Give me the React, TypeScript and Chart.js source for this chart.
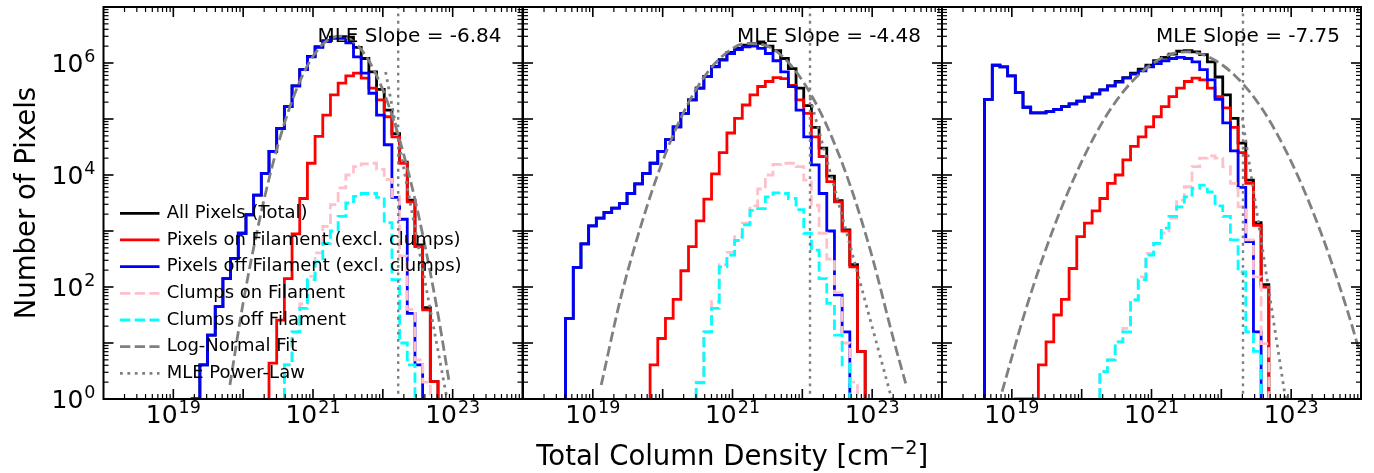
import React, { useEffect, useRef } from "react";
import { Chart, registerables } from "chart.js";
Chart.register(...registerables);

const W = 1374;
const H = 473;
const FONT = '"DejaVu Sans", "Liberation Sans", sans-serif';

// log10 of histogram bin edges (column density)
const binEdgesLog = [
  18.61, 18.72, 18.83, 18.94, 19.05, 19.16, 19.27, 19.38, 19.49, 19.6, 19.71,
  19.82, 19.93, 20.04, 20.15, 20.26, 20.37, 20.48, 20.59, 20.7, 20.81, 20.92,
  21.03, 21.14, 21.25, 21.36, 21.47, 21.58, 21.69, 21.8, 21.91, 22.02, 22.13,
  22.24, 22.35, 22.46, 22.57, 22.68, 22.79, 22.9, 23.01,
];

const N = null;
// log10 of pixel counts per bin (null = empty bin)
const p1Total = [N,N,N,N,N,N,0,0.61,1.14,1.65,2.15,2.51,2.96,3.29,3.64,4.03,4.42,4.83,5.22,5.59,5.88,6.12,6.29,6.4,6.46,6.47,6.46,6.28,6.08,5.84,5.53,5.16,4.74,4.23,3.55,2.75,1.63,0.31,N,N];
const p1Red = [N,N,N,N,N,N,N,N,N,N,N,N,N,N,N,N,0.64,1.41,2.15,2.95,3.58,4.21,4.69,5.07,5.43,5.64,5.77,5.82,5.73,5.55,5.34,5.04,4.68,4.21,3.52,2.72,1.59,0.31,N,N];
const p1Blue = [N,N,N,N,N,N,0,0.61,1.14,1.65,2.15,2.51,2.96,3.29,3.64,4.03,4.42,4.83,5.22,5.59,5.88,6.11,6.28,6.38,6.44,6.44,6.36,6.11,5.82,5.46,5.07,4.54,3.6,3.21,1.53,0.61,N,N,N,N];
const p1Pink = [N,N,N,N,N,N,N,N,N,N,N,N,N,N,N,N,N,N,0.61,1.2,1.7,2.19,2.61,3.08,3.47,3.77,4.0,4.15,4.2,4.21,4.1,3.92,3.62,2.55,1.6,0.7,0.3,N,N,N];
const p1Cyan = [N,N,N,N,N,N,N,N,N,N,N,N,N,N,N,N,N,N,0.61,1.2,1.62,2.13,2.45,2.78,3.0,3.26,3.5,3.62,3.67,3.67,3.6,3.15,2.13,1.0,0.61,N,N,N,N,N];

const p2Total = [1.44,2.35,2.77,3.09,3.23,3.33,3.41,3.49,3.67,3.84,4.03,4.21,4.42,4.63,4.86,5.1,5.34,5.55,5.76,5.94,6.06,6.19,6.26,6.32,6.35,6.35,6.3,6.22,6.08,5.9,5.55,5.24,4.85,4.48,3.98,3.54,3.02,2.4,0.85,N];
const p2Red = [N,N,N,N,N,N,N,N,N,N,N,0.61,1.08,1.44,1.78,2.29,2.72,3.18,3.57,4.02,4.4,4.75,5.01,5.25,5.43,5.58,5.67,5.74,5.72,5.6,5.34,5.1,4.68,4.33,3.88,3.52,3.0,2.36,0.85,N];
const p2Blue = [1.44,2.35,2.77,3.09,3.23,3.33,3.41,3.49,3.67,3.84,4.03,4.21,4.42,4.63,4.86,5.1,5.34,5.55,5.76,5.93,6.05,6.17,6.24,6.29,6.3,6.26,6.17,6.04,5.84,5.58,5.16,4.68,4.18,3.67,3.0,1.86,1.2,N,N,N];
const p2Pink = [N,N,N,N,N,N,N,N,N,N,N,N,N,N,N,N,N,0.3,1.2,1.74,2.4,2.62,2.9,3.14,3.45,3.75,4.0,4.19,4.21,4.21,4.15,3.91,3.46,2.96,2.5,1.9,1.0,0.3,N,N];
const p2Cyan = [N,N,N,N,N,N,N,N,N,N,N,N,N,N,N,N,N,0.29,1.2,1.62,2.36,2.57,2.83,3.11,3.37,3.4,3.61,3.68,3.67,3.58,3.38,2.96,2.66,2.15,1.71,1.14,0.61,N,N,N];

const p3Total = [5.35,5.96,5.93,5.77,5.47,5.21,5.11,5.11,5.13,5.17,5.22,5.27,5.32,5.39,5.45,5.52,5.59,5.67,5.74,5.82,5.89,5.96,6.04,6.1,6.16,6.21,6.22,6.2,6.15,6.02,5.75,5.43,5.01,4.57,3.91,3.15,2.04,N,N,N];
const p3Red = [N,N,N,N,0,0,0,0.61,1.02,1.5,1.78,2.33,2.9,3.14,3.36,3.58,3.85,4.0,4.27,4.51,4.68,4.86,5.04,5.22,5.4,5.55,5.67,5.73,5.7,5.55,5.4,5.2,4.85,4.4,3.85,3.1,2.0,N,N,N];
const p3Blue = [5.35,5.96,5.93,5.77,5.47,5.21,5.11,5.11,5.13,5.17,5.22,5.27,5.32,5.39,5.45,5.52,5.59,5.66,5.73,5.8,5.86,5.93,5.99,6.04,6.08,6.1,6.08,6.02,5.88,5.7,5.35,4.93,4.43,3.78,2.81,1.2,N,N,N,N];
const p3Pink = [N,N,N,N,N,N,N,N,N,N,N,N,N,N,N,0.49,0.7,1.02,1.26,1.77,2.18,2.6,2.78,2.96,3.23,3.55,3.79,4.15,4.3,4.34,4.3,4.15,3.85,3.43,2.84,2.18,0.99,N,N,N];
const p3Cyan = [N,N,N,N,N,N,N,N,N,N,N,N,N,N,N,0.49,0.7,1.02,1.2,1.77,2.13,2.57,2.78,3.05,3.26,3.43,3.61,3.76,3.82,3.7,3.45,3.26,2.84,2.27,1.2,0.85,N,N,N,N];

// log-normal fit curves (log10 x, log10 y)
const p1LogNormX = [19.81,20.0,20.2,20.4,20.6,20.8,21.0,21.2,21.4,21.6,21.8,22.0,22.2,22.4,22.6,22.8,22.95];
const p1LogNormY = [0.25,1.72,3.0,4.08,4.96,5.64,6.12,6.4,6.48,6.36,6.04,5.52,4.8,3.88,2.76,1.44,0.3];
const p2LogNormX = [19.12,19.4,19.7,20.0,20.3,20.6,20.9,21.2,21.5,21.8,22.1,22.4,22.7,23.0,23.3,23.48];
const p2LogNormY = [0.25,1.81,3.14,4.25,5.12,5.76,6.17,6.35,6.3,6.01,5.49,4.74,3.76,2.54,1.09,0.28];
const p3LogNormX = [18.86,19.2,19.6,20.0,20.4,20.8,21.2,21.5,21.8,22.2,22.6,23.0,23.4,23.8,24.0];
const p3LogNormY = [0.13,1.6,3.06,4.24,5.15,5.77,6.12,6.2,6.12,5.77,5.15,4.24,3.06,1.6,0.76];

// MLE power-law lines (log10 x, log10 y)
const p1PowerX = [22.04, 22.92];
const p1PowerY = [5.84, 0.0];
const p2PowerX = [22.11, 23.28];
const p2PowerY = [5.38, 0.0];
const p3PowerX = [22.3, 22.92];
const p3PowerY = [5.02, 0.0];

const mleXminLog = [22.22, 22.11, 22.31];
const mleSlopes = ["-6.84", "-4.48", "-7.75"];

const xTickDecades = [18, 19, 20, 21, 22, 23, 24];
const xLabelDecades = [19, 21, 23];
const yTickDecades = [0, 1, 2, 3, 4, 5, 6, 7];
const yLabelDecades = [0, 2, 4, 6];

const legendLabels = [
  "All Pixels (Total)",
  "Pixels on Filament (excl. clumps)",
  "Pixels off Filament (excl. clumps)",
  "Clumps on Filament",
  "Clumps off Filament",
  "Log-Normal Fit",
  "MLE Power-Law",
];

const DASH = [10.3, 4.4];
const DOT = [2.8, 4.6];
const styles = [
  { color: "#000000", dash: [] as number[] },
  { color: "#ff0000", dash: [] as number[] },
  { color: "#0000ff", dash: [] as number[] },
  { color: "#ffc0cb", dash: DASH },
  { color: "#00ffff", dash: DASH },
  { color: "#808080", dash: DASH },
  { color: "#808080", dash: DOT },
];

const panels = [
  { hist: [p1Total, p1Red, p1Blue, p1Pink, p1Cyan], lnX: p1LogNormX, lnY: p1LogNormY, pwX: p1PowerX, pwY: p1PowerY },
  { hist: [p2Total, p2Red, p2Blue, p2Pink, p2Cyan], lnX: p2LogNormX, lnY: p2LogNormY, pwX: p2PowerX, pwY: p2PowerY },
  { hist: [p3Total, p3Red, p3Blue, p3Pink, p3Cyan], lnX: p3LogNormX, lnY: p3LogNormY, pwX: p3PowerX, pwY: p3PowerY },
];

// layout of the three plot areas
const panelLeft = [103.5, 523, 942];
const panelWidth = 419;
const plotTop = 7;
const plotBottom = 399;
const LW = 2.8;

function histPoints(vals: (number | null)[]) {
  let first = -1;
  let last = -1;
  vals.forEach((v, i) => {
    if (v !== null) {
      if (first < 0) first = i;
      last = i;
    }
  });
  const pts: { x: number; y: number }[] = [];
  if (first < 0) return pts;
  pts.push({ x: 10 ** binEdgesLog[first], y: 0.05 });
  for (let i = first; i <= last; i++) {
    const v = vals[i];
    pts.push({ x: 10 ** binEdgesLog[i], y: v === null ? 0.05 : 10 ** v });
  }
  pts.push({ x: 10 ** binEdgesLog[last + 1], y: 0.05 });
  return pts;
}

function curvePoints(xs: number[], ys: number[]) {
  return xs.map((x, i) => ({ x: 10 ** x, y: 10 ** ys[i] }));
}

function drawPow(ctx: CanvasRenderingContext2D, exp: string, x: number, baseline: number, align: "center" | "right") {
  ctx.font = `25px ${FONT}`;
  const wb = ctx.measureText("10").width;
  ctx.font = `17.5px ${FONT}`;
  const we = ctx.measureText(exp).width;
  const total = wb + we + 1;
  const x0 = align === "center" ? x - total / 2 : x - total;
  ctx.textAlign = "left";
  ctx.textBaseline = "alphabetic";
  ctx.font = `25px ${FONT}`;
  ctx.fillText("10", x0, baseline);
  ctx.font = `17.5px ${FONT}`;
  ctx.fillText(exp, x0 + wb + 1, baseline - 10);
}

function line(ctx: CanvasRenderingContext2D, x1: number, y1: number, x2: number, y2: number) {
  ctx.beginPath();
  ctx.moveTo(x1, y1);
  ctx.lineTo(x2, y2);
  ctx.stroke();
}

function makePlugin(pi: number) {
  return {
    id: "decor" + pi,
    afterDraw(chart: any) {
      const ctx: CanvasRenderingContext2D = chart.ctx;
      const { left, right, top, bottom } = chart.chartArea;
      const xs = chart.scales.x;
      const ys = chart.scales.y;
      ctx.save();
      ctx.strokeStyle = "#000";
      ctx.fillStyle = "#000";
      ctx.setLineDash([]);
      // x ticks
      for (const d of xTickDecades) {
        for (let m = 1; m <= 9; m++) {
          const v = m * 10 ** d;
          if (v <= 1e18 || v >= 1e24) continue;
          const px = xs.getPixelForValue(v);
          const len = m === 1 ? 10 : 5;
          ctx.lineWidth = m === 1 ? 1.6 : 1.2;
          line(ctx, px, bottom, px, bottom - len);
          line(ctx, px, top, px, top + len);
        }
      }
      // y ticks
      for (const d of yTickDecades) {
        for (let m = 1; m <= 9; m++) {
          const v = m * 10 ** d;
          if (v <= 1 || v >= 1e7) continue;
          const py = ys.getPixelForValue(v);
          const len = m === 1 ? 10 : 5;
          ctx.lineWidth = m === 1 ? 1.6 : 1.2;
          line(ctx, left, py, left + len, py);
          line(ctx, right, py, right - len, py);
        }
      }
      // frame
      ctx.lineWidth = 2;
      ctx.strokeRect(left, top, right - left, bottom - top);
      // x tick labels
      for (const d of xLabelDecades) {
        drawPow(ctx, String(d), xs.getPixelForValue(10 ** d), bottom + 24, "center");
      }
      // MLE slope text
      ctx.font = `20px ${FONT}`;
      ctx.textAlign = "right";
      ctx.textBaseline = "alphabetic";
      ctx.fillText(`MLE Slope = ${mleSlopes[pi]}`, right - 21, top + 35);

      if (pi === 0) {
        for (const d of yLabelDecades) {
          const py = ys.getPixelForValue(10 ** d);
          drawPow(ctx, String(d), left - 8, py + 9, "right");
        }
        // legend
        const rowY0 = 213.3;
        const rowStep = 26.67;
        legendLabels.forEach((lab, i) => {
          const y = rowY0 + rowStep * i;
          const st = styles[i];
          ctx.strokeStyle = st.color;
          ctx.lineWidth = LW;
          ctx.lineCap = "butt";
          ctx.setLineDash(st.dash);
          line(ctx, left + 16.5, y, left + 56, y);
          ctx.setLineDash([]);
          ctx.fillStyle = "#000";
          ctx.font = `18px ${FONT}`;
          ctx.textAlign = "left";
          ctx.textBaseline = "middle";
          ctx.fillText(lab, left + 63.2, y);
        });
        // y axis title
        ctx.save();
        ctx.translate(35, (plotTop + plotBottom) / 2);
        ctx.rotate(-Math.PI / 2);
        ctx.font = `27.5px ${FONT}`;
        ctx.textAlign = "center";
        ctx.textBaseline = "alphabetic";
        ctx.fillText("Number of Pixels", 0, 0);
        ctx.restore();
        // x axis title
        ctx.font = `27.5px ${FONT}`;
        const t1 = "Total Column Density [cm";
        const t3 = "]";
        const w1 = ctx.measureText(t1).width;
        const w3 = ctx.measureText(t3).width;
        ctx.font = `19.25px ${FONT}`;
        const t2 = "\u22122";
        const w2 = ctx.measureText(t2).width;
        const cx = (panelLeft[0] + panelLeft[2] + panelWidth) / 2;
        const x0 = cx - (w1 + w2 + w3) / 2;
        const base = 465;
        ctx.textAlign = "left";
        ctx.textBaseline = "alphabetic";
        ctx.font = `27.5px ${FONT}`;
        ctx.fillText(t1, x0, base);
        ctx.font = `19.25px ${FONT}`;
        ctx.fillText(t2, x0 + w1, base - 11);
        ctx.font = `27.5px ${FONT}`;
        ctx.fillText(t3, x0 + w1 + w2, base);
      }
      ctx.restore();
    },
  };
}

function buildConfig(pi: number): any {
  const p = panels[pi];
  const datasets: any[] = [];
  p.hist.forEach((vals, i) => {
    datasets.push({
      data: histPoints(vals),
      borderColor: styles[i].color,
      borderDash: styles[i].dash,
      borderWidth: LW,
      stepped: true,
      pointRadius: 0,
      fill: false,
      clip: 0,
      borderCapStyle: "butt",
      borderJoinStyle: "miter",
      order: -i,
    });
  });
  datasets.push({
    data: curvePoints(p.lnX, p.lnY),
    borderColor: styles[5].color,
    borderDash: styles[5].dash,
    borderWidth: LW,
    cubicInterpolationMode: "monotone",
    pointRadius: 0,
    fill: false,
    clip: 0,
    order: -5,
  });
  datasets.push({
    data: curvePoints(p.pwX, p.pwY),
    borderColor: styles[6].color,
    borderDash: styles[6].dash,
    borderWidth: LW,
    pointRadius: 0,
    fill: false,
    clip: 0,
    order: -6,
  });
  datasets.push({
    data: [
      { x: 10 ** mleXminLog[pi], y: 0.5 },
      { x: 10 ** mleXminLog[pi], y: 2e7 },
    ],
    borderColor: styles[6].color,
    borderDash: styles[6].dash,
    borderWidth: 2.4,
    pointRadius: 0,
    fill: false,
    clip: 0,
    order: -7,
  });
  const left = panelLeft[pi];
  const right = left + panelWidth;
  return {
    type: "line",
    data: { datasets },
    options: {
      animation: false,
      responsive: false,
      devicePixelRatio: 1,
      events: [],
      layout: { padding: { left, right: W - right, top: plotTop, bottom: H - plotBottom } },
      plugins: { legend: { display: false }, tooltip: { enabled: false }, title: { display: false } },
      scales: {
        x: { type: "logarithmic", min: 1e18, max: 1e24, display: false },
        y: { type: "logarithmic", min: 1, max: 1e7, display: false },
      },
    },
    plugins: [makePlugin(pi)],
  };
}

export default function App() {
  const r0 = useRef<HTMLCanvasElement | null>(null);
  const r1 = useRef<HTMLCanvasElement | null>(null);
  const r2 = useRef<HTMLCanvasElement | null>(null);
  useEffect(() => {
    const refs = [r0, r1, r2];
    const charts = refs.map((r, i) => new Chart(r.current as HTMLCanvasElement, buildConfig(i)));
    return () => charts.forEach((c) => c.destroy());
  }, []);
  const cs: React.CSSProperties = { position: "absolute", left: 0, top: 0, width: W, height: H };
  return (
    <div style={{ position: "absolute", left: 0, top: 0, width: W, height: H, background: "#fff" }}>
      <canvas ref={r0} width={W} height={H} style={cs} />
      <canvas ref={r1} width={W} height={H} style={cs} />
      <canvas ref={r2} width={W} height={H} style={cs} />
    </div>
  );
}
